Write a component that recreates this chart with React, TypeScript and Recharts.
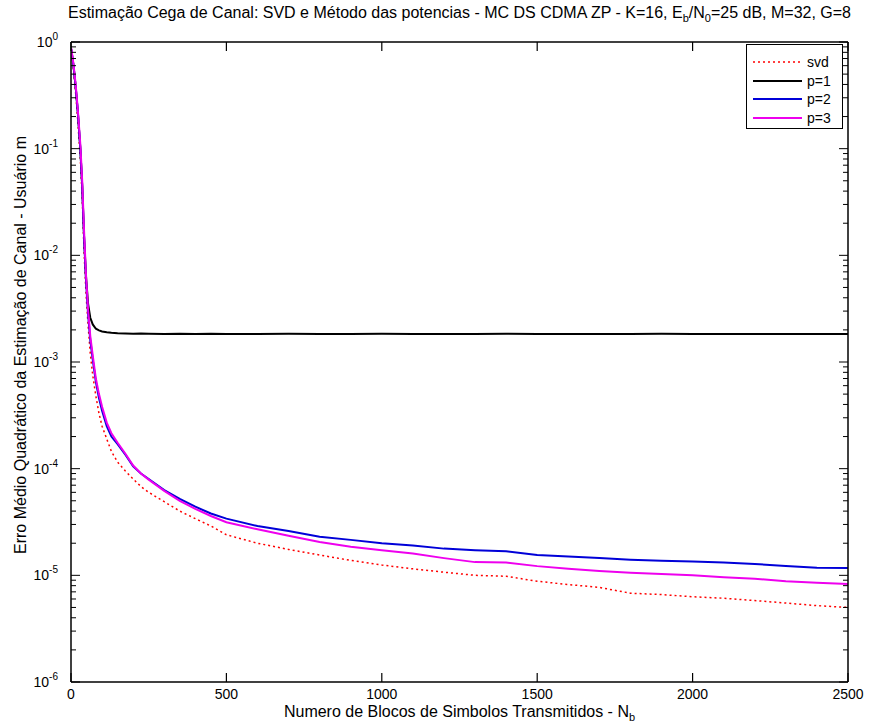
import { LineChart, Line, XAxis, YAxis } from "recharts";

const FONT = "'Liberation Sans', Arial, Helvetica, sans-serif";

// numero de blocos transmitidos (N_b)
const nb = [
  1, 8, 15, 22, 30, 36, 42, 48, 55, 62, 70, 80, 90, 100, 115, 130, 150, 175,
  200, 225, 250, 300, 350, 400, 450, 500, 600, 700, 800, 900, 1000, 1100, 1200,
  1300, 1400, 1500, 1600, 1700, 1800, 1900, 2000, 2100, 2200, 2300, 2400, 2500,
];

const svd = [
  0.8, 0.55, 0.33, 0.18, 0.08, 0.035, 0.011, 4.5e-3, 2.2e-3, 1.2e-3, 7.5e-4,
  4.8e-4, 3.3e-4, 2.5e-4, 1.9e-4, 1.45e-4, 1.15e-4, 9.5e-5, 8e-5, 6.8e-5, 6e-5,
  4.9e-5, 4.0e-5, 3.4e-5, 2.9e-5, 2.4e-5, 2.0e-5, 1.75e-5, 1.55e-5, 1.38e-5,
  1.25e-5, 1.15e-5, 1.07e-5, 1.0e-5, 9.8e-6, 8.8e-6, 8.2e-6, 7.7e-6, 6.8e-6,
  6.6e-6, 6.3e-6, 6.1e-6, 5.8e-6, 5.5e-6, 5.2e-6, 5.0e-6,
];

const p1 = [
  0.85, 0.6, 0.38, 0.22, 0.1, 0.045, 0.015, 6.5e-3, 3.5e-3, 2.6e-3, 2.25e-3,
  2.05e-3, 1.98e-3, 1.93e-3, 1.9e-3, 1.88e-3, 1.86e-3, 1.85e-3, 1.84e-3,
  1.85e-3, 1.84e-3, 1.83e-3, 1.84e-3, 1.83e-3, 1.84e-3, 1.83e-3, 1.83e-3,
  1.84e-3, 1.83e-3, 1.83e-3, 1.84e-3, 1.83e-3, 1.83e-3, 1.83e-3, 1.84e-3,
  1.83e-3, 1.83e-3, 1.83e-3, 1.83e-3, 1.84e-3, 1.83e-3, 1.83e-3, 1.83e-3,
  1.83e-3, 1.83e-3, 1.83e-3,
];

const p2 = [
  0.85, 0.6, 0.38, 0.22, 0.1, 0.045, 0.015, 6e-3, 2.8e-3, 1.6e-3, 1.05e-3,
  6.5e-4, 4.6e-4, 3.5e-4, 2.5e-4, 2.0e-4, 1.7e-4, 1.35e-4, 1.05e-4, 9e-5, 8e-5,
  6.3e-5, 5.2e-5, 4.4e-5, 3.8e-5, 3.4e-5, 2.9e-5, 2.6e-5, 2.3e-5, 2.15e-5,
  2.0e-5, 1.9e-5, 1.78e-5, 1.72e-5, 1.68e-5, 1.55e-5, 1.5e-5, 1.45e-5, 1.4e-5,
  1.37e-5, 1.35e-5, 1.32e-5, 1.28e-5, 1.22e-5, 1.18e-5, 1.17e-5,
];

const p3 = [
  0.87, 0.62, 0.4, 0.23, 0.11, 0.05, 0.017, 6.8e-3, 3.1e-3, 1.75e-3, 1.15e-3,
  7e-4, 5e-4, 3.8e-4, 2.7e-4, 2.15e-4, 1.75e-4, 1.38e-4, 1.07e-4, 9e-5, 7.9e-5,
  6.2e-5, 5.0e-5, 4.2e-5, 3.6e-5, 3.15e-5, 2.7e-5, 2.35e-5, 2.05e-5, 1.85e-5,
  1.72e-5, 1.6e-5, 1.45e-5, 1.33e-5, 1.32e-5, 1.22e-5, 1.15e-5, 1.1e-5,
  1.06e-5, 1.03e-5, 1.0e-5, 9.6e-6, 9.3e-6, 8.8e-6, 8.5e-6, 8.3e-6,
];

const xTicks = [0, 500, 1000, 1500, 2000, 2500];
const decades = [-6, -5, -4, -3, -2, -1];
const mantissas = [1, 2, 3, 4, 5, 6, 7, 8, 9];
const yTicks = [...decades.flatMap((d) => mantissas.map((m) => m * Math.pow(10, d))), 1];

const data = nb.map((n, i) => ({ nb: n, svd: svd[i], p1: p1[i], p2: p2[i], p3: p3[i] }));

const isMajor = (v: number) => {
  const l = Math.log10(v);
  return Math.abs(l - Math.round(l)) < 1e-6;
};

function LeftTick({ x, y, payload }: any) {
  const v = payload.value;
  const major = isMajor(v);
  const e = Math.round(Math.log10(v));
  return (
    <g>
      <line x1={x} x2={x + (major ? 9 : 5)} y1={y} y2={y} stroke="#000" />
      {major && (
        <text x={x - 13} y={y + 5} textAnchor="end" fontFamily={FONT} fontSize={14} fill="#000">
          10
          <tspan dy={-7} fontSize={10}>
            {e}
          </tspan>
        </text>
      )}
    </g>
  );
}

function RightTick({ x, y, payload }: any) {
  const major = isMajor(payload.value);
  return <line x1={x} x2={x - (major ? 9 : 5)} y1={y} y2={y} stroke="#000" />;
}

function BottomTick({ x, y, payload }: any) {
  return (
    <g>
      <line x1={x} x2={x} y1={y} y2={y - 9} stroke="#000" strokeWidth={1.2} />
      <text x={x} y={y + 17} textAnchor="middle" fontFamily={FONT} fontSize={14} fill="#000">
        {payload.value}
      </text>
    </g>
  );
}

function TopTick({ x, y }: any) {
  return <line x1={x} x2={x} y1={y} y2={y + 9} stroke="#000" strokeWidth={1.2} />;
}

function XTitle({ viewBox }: any) {
  const cx = viewBox.x + viewBox.width / 2;
  return (
    <text x={cx} y={viewBox.y + 35} textAnchor="middle" fontFamily={FONT} fontSize={16} fill="#000">
      Numero de Blocos de Simbolos Transmitidos - N
      <tspan dy={4} fontSize={11}>b</tspan>
    </text>
  );
}

function YTitle({ viewBox }: any) {
  const cy = viewBox.y + viewBox.height / 2 - 17;
  const x = 26;
  return (
    <text
      x={x}
      y={cy}
      transform={`rotate(-90 ${x} ${cy})`}
      textAnchor="middle"
      fontFamily={FONT}
      fontSize={16}
      fill="#000"
    >
      Erro Médio Quadrático da Estimação de Canal - Usuário m
    </text>
  );
}

function Title({ viewBox }: any) {
  const cx = viewBox.x + viewBox.width / 2;
  return (
    <text x={cx} y={18} textAnchor="middle" fontFamily={FONT} fontSize={16} fill="#000">
      Estimação Cega de Canal: SVD e Método das potencias - MC DS CDMA ZP - K=16, E
      <tspan dy={4} fontSize={11}>b</tspan>
      <tspan dy={-4}>/N</tspan>
      <tspan dy={4} fontSize={11}>0</tspan>
      <tspan dy={-4}>=25 dB, M=32, G=8</tspan>
    </text>
  );
}

const series = [
  { key: "svd", name: "svd", color: "#ff0000", width: 1.5, dash: "2 3" },
  { key: "p1", name: "p=1", color: "#000000", width: 2, dash: undefined },
  { key: "p2", name: "p=2", color: "#0000d8", width: 2, dash: undefined },
  { key: "p3", name: "p=3", color: "#ee00ee", width: 2, dash: undefined },
];

function LegendBox() {
  return (
    <div
      style={{
        position: "absolute",
        left: 746,
        top: 44,
        width: 97,
        boxSizing: "border-box",
        border: "1px solid #000",
        background: "#fff",
        padding: "8px 4px 1px 6px",
        fontFamily: FONT,
        fontSize: 14,
        lineHeight: "18.5px",
      }}
    >
      {series.map((s) => (
        <div key={s.key} style={{ display: "flex", alignItems: "center", height: 18.5 }}>
          <svg width={49} height={10}>
            <line x1={0} x2={49} y1={5} y2={5} stroke={s.color} strokeWidth={s.width} strokeDasharray={s.dash} />
          </svg>
          <span style={{ marginLeft: 5 }}>{s.name}</span>
        </div>
      ))}
    </div>
  );
}

const axisLine = { stroke: "#000", strokeWidth: 1.5 };

export default function App() {
  return (
    <div style={{ position: "absolute", left: 0, top: 0, width: 869, height: 726, background: "#fff" }}>
      <LineChart width={869} height={726} data={data} margin={{ top: 41, right: 20, bottom: 14, left: 21 }}>
        <XAxis
          dataKey="nb"
          type="number"
          domain={[0, 2500]}
          ticks={xTicks}
          allowDataOverflow
          height={30}
          axisLine={axisLine}
          tickLine={false}
          tickSize={0}
          tickMargin={0}
          tick={<BottomTick />}
          label={<XTitle />}
        />
        <XAxis
          xAxisId="top"
          dataKey="nb"
          type="number"
          orientation="top"
          domain={[0, 2500]}
          ticks={xTicks}
          allowDataOverflow
          height={1}
          axisLine={axisLine}
          tickLine={false}
          tickSize={0}
          tickMargin={0}
          tick={<TopTick />}
          label={<Title />}
        />
        <YAxis
          scale="log"
          type="number"
          domain={[1e-6, 1]}
          ticks={yTicks}
          allowDataOverflow
          interval={0}
          width={50}
          axisLine={axisLine}
          tickLine={false}
          tickSize={0}
          tickMargin={0}
          tick={<LeftTick />}
          label={<YTitle />}
        />
        <YAxis
          yAxisId="right"
          orientation="right"
          scale="log"
          type="number"
          domain={[1e-6, 1]}
          ticks={yTicks}
          allowDataOverflow
          interval={0}
          width={1}
          axisLine={axisLine}
          tickLine={false}
          tickSize={0}
          tickMargin={0}
          tick={<RightTick />}
        />
        {series.map((s) => (
          <Line
            key={s.key}
            dataKey={s.key}
            name={s.name}
            xAxisId={s.key === "p3" ? "top" : 0}
            yAxisId={s.key === "p3" ? "right" : 0}
            type="linear"
            stroke={s.color}
            strokeWidth={s.width}
            strokeDasharray={s.dash}
            dot={false}
            activeDot={false}
            isAnimationActive={false}
          />
        ))}
      </LineChart>
      <LegendBox />
    </div>
  );
}
